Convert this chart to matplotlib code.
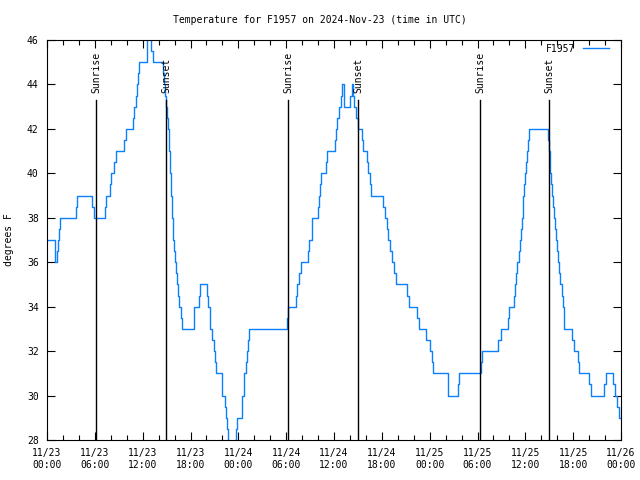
import pandas as pd
import matplotlib
matplotlib.use('Agg')
import matplotlib.pyplot as plt
import matplotlib.dates as mdates

# hours after 2024-11-23 00:00 UTC and temperature (deg F) from that time on
hours = [0.0, 0.95, 1.05, 1.25, 1.4, 1.5, 1.65, 3.65, 3.8, 5.7, 5.85, 7.25, 7.4,
         7.9, 8.05, 8.4, 8.6, 9.65, 9.85, 10.85, 10.95, 11.15, 11.3, 11.45, 11.6,
         12.6, 12.95, 13.1, 13.25, 14.55, 14.7, 14.85, 14.95, 15.05, 15.15, 15.25,
         15.35, 15.45, 15.55, 15.7, 15.85, 15.95, 16.05, 16.15, 16.3, 16.45, 16.6,
         16.75, 16.9, 18.4, 18.5, 19.1, 19.2, 20.1, 20.25, 20.4, 20.5, 20.75, 20.9,
         21.05, 21.2, 21.9, 22.0, 22.3, 22.45, 22.6, 22.72, 22.8, 23.55, 23.7, 23.8,
         24.4, 24.5, 24.65, 24.75, 24.95, 25.05, 25.25, 25.4, 30.1, 30.2,
         31.2, 31.35, 31.55, 31.8, 32.7, 32.9, 33.2, 33.3, 34.0, 34.15, 34.25,
         34.35, 35.0, 35.15, 36.1, 36.25, 36.4, 36.6, 36.9, 37.0, 37.2, 37.3,
         38.0, 38.2, 38.35, 38.5, 38.7, 38.95, 39.55, 39.65, 40.2, 40.3, 40.5,
         40.65, 42.2, 42.35, 42.6, 42.75, 43.0, 43.25, 43.5, 43.8, 45.15, 45.35,
         46.45, 46.65, 47.5, 48.05, 48.25, 48.4, 50.3, 50.35, 51.55, 51.65,
         54.45, 54.6, 56.6, 56.9, 57.8, 57.95, 58.55, 58.65, 58.85, 59.0, 59.15,
         59.3, 59.45, 59.55, 59.65, 59.75, 59.85, 59.95, 60.05, 60.15, 60.3, 60.45,
         62.8, 62.95, 63.05, 63.15, 63.25, 63.4, 63.5, 63.6, 63.7, 63.8, 63.95,
         64.1, 64.25, 64.4, 64.6, 64.7, 64.8, 64.9, 65.85, 66.1, 66.55, 66.7,
         68.0, 68.2, 69.85, 70.1, 70.95, 71.2, 71.45, 71.8, 71.95]
temps = [37, 36.5, 36, 36.5, 37, 37.5, 38, 38.5, 39, 38.5, 38, 38.5, 39,
         39.5, 40, 40.5, 41, 41.5, 42, 42.5, 43, 43.5, 44, 44.5, 45,
         46.5, 46, 45.5, 45, 44.5, 44, 43.5, 43, 42.5, 42, 41.5,
         41, 40, 39, 38, 37, 36.5, 36, 35.5, 35, 34.5, 34,
         33.5, 33, 33.5, 34, 34.5, 35, 34.5, 34, 33.5, 33, 32.5, 32,
         31.5, 31, 30.5, 30, 29.5, 29, 28.5, 28, 27.5, 28, 28.5, 29,
         29.5, 30, 30.5, 31, 31.5, 32, 32.5, 33, 33.5, 34,
         34.5, 35, 35.5, 36, 36.5, 37, 37.5, 38, 38.5, 39, 39.5,
         40, 40.5, 41, 41.5, 42, 42.5, 43, 43.5, 44, 43.5, 43,
         43.5, 44, 43.5, 43, 42.5, 42, 41.5, 41, 40.5, 40, 39.5,
         39, 38.5, 38, 37.5, 37, 36.5, 36, 35.5, 35, 34.5, 34,
         33.5, 33, 32.5, 32, 31.5, 31, 30.5, 30, 30.5, 31,
         31.5, 32, 32.5, 33, 33.5, 34, 34.5, 35, 35.5, 36, 36.5,
         37, 37.5, 38, 38.5, 39, 39.5, 40, 40.5, 41, 41.5, 42,
         41.5, 41, 40.5, 40, 39.5, 39, 38.5, 38, 37.5, 37, 36.5,
         36, 35.5, 35, 34.5, 34, 33.5, 33, 32.5, 32, 31.5, 31,
         30.5, 30, 30.5, 31, 30.5, 30, 29.5, 29, 29]

sunrise_hours = [6.2, 30.25, 54.3]
sunset_hours = [14.97, 39.0, 62.97]

start = pd.Timestamp('2024-11-23 00:00')
times = start + pd.to_timedelta(hours, unit='h')
sunrises = start + pd.to_timedelta(sunrise_hours, unit='h')
sunsets = start + pd.to_timedelta(sunset_hours, unit='h')

plt.rcParams['font.family'] = 'DejaVu Sans Mono'
plt.rcParams['font.size'] = 7

fig = plt.figure(figsize=(6.4, 4.8), dpi=100)
ax = fig.add_axes([47 / 640, 40 / 480, 574 / 640, 400 / 480])

ax.plot(times, temps, drawstyle='steps-post', color='#0a80ff', lw=1.0, label='F1957')

for t in sunrises:
    ax.axvline(t, ymax=0.85, color='black', lw=1.0)
    ax.text(t, 43.6, 'Sunrise', rotation=90, ha='center', va='bottom')
for t in sunsets:
    ax.axvline(t, ymax=0.85, color='black', lw=1.0)
    ax.text(t, 43.6, 'Sunset', rotation=90, ha='center', va='bottom')

ax.set_xlim(start, start + pd.Timedelta(hours=72))
ax.set_ylim(28, 46)
ax.set_yticks(range(28, 47, 2))
ax.xaxis.set_major_locator(mdates.HourLocator(byhour=range(0, 24, 6)))
ax.xaxis.set_minor_locator(mdates.HourLocator(interval=2))
ax.xaxis.set_major_formatter(mdates.DateFormatter('%m/%d\n%H:%M'))
ax.tick_params(which='both', direction='in', top=True, right=True, width=0.8)
ax.tick_params(which='major', length=6)
ax.tick_params(which='minor', length=3.5)
ax.tick_params(axis='y', pad=6)
ax.tick_params(axis='x', pad=6)
for s in ax.spines.values():
    s.set_linewidth(0.8)

ax.set_ylabel('degrees F')
ax.yaxis.set_label_coords(-33 / 574, 0.5)
fig.suptitle('Temperature for F1957 on 2024-Nov-23 (time in UTC)', y=1 - 20 / 480,
             va='center', fontsize=7)
ax.legend(loc='upper right', bbox_to_anchor=(1 - 8 / 574, 1), frameon=False,
          markerfirst=False, handlelength=2.7, handletextpad=0.8,
          borderaxespad=0.3, borderpad=0.1)

fig.savefig('out.png', dpi=100)
